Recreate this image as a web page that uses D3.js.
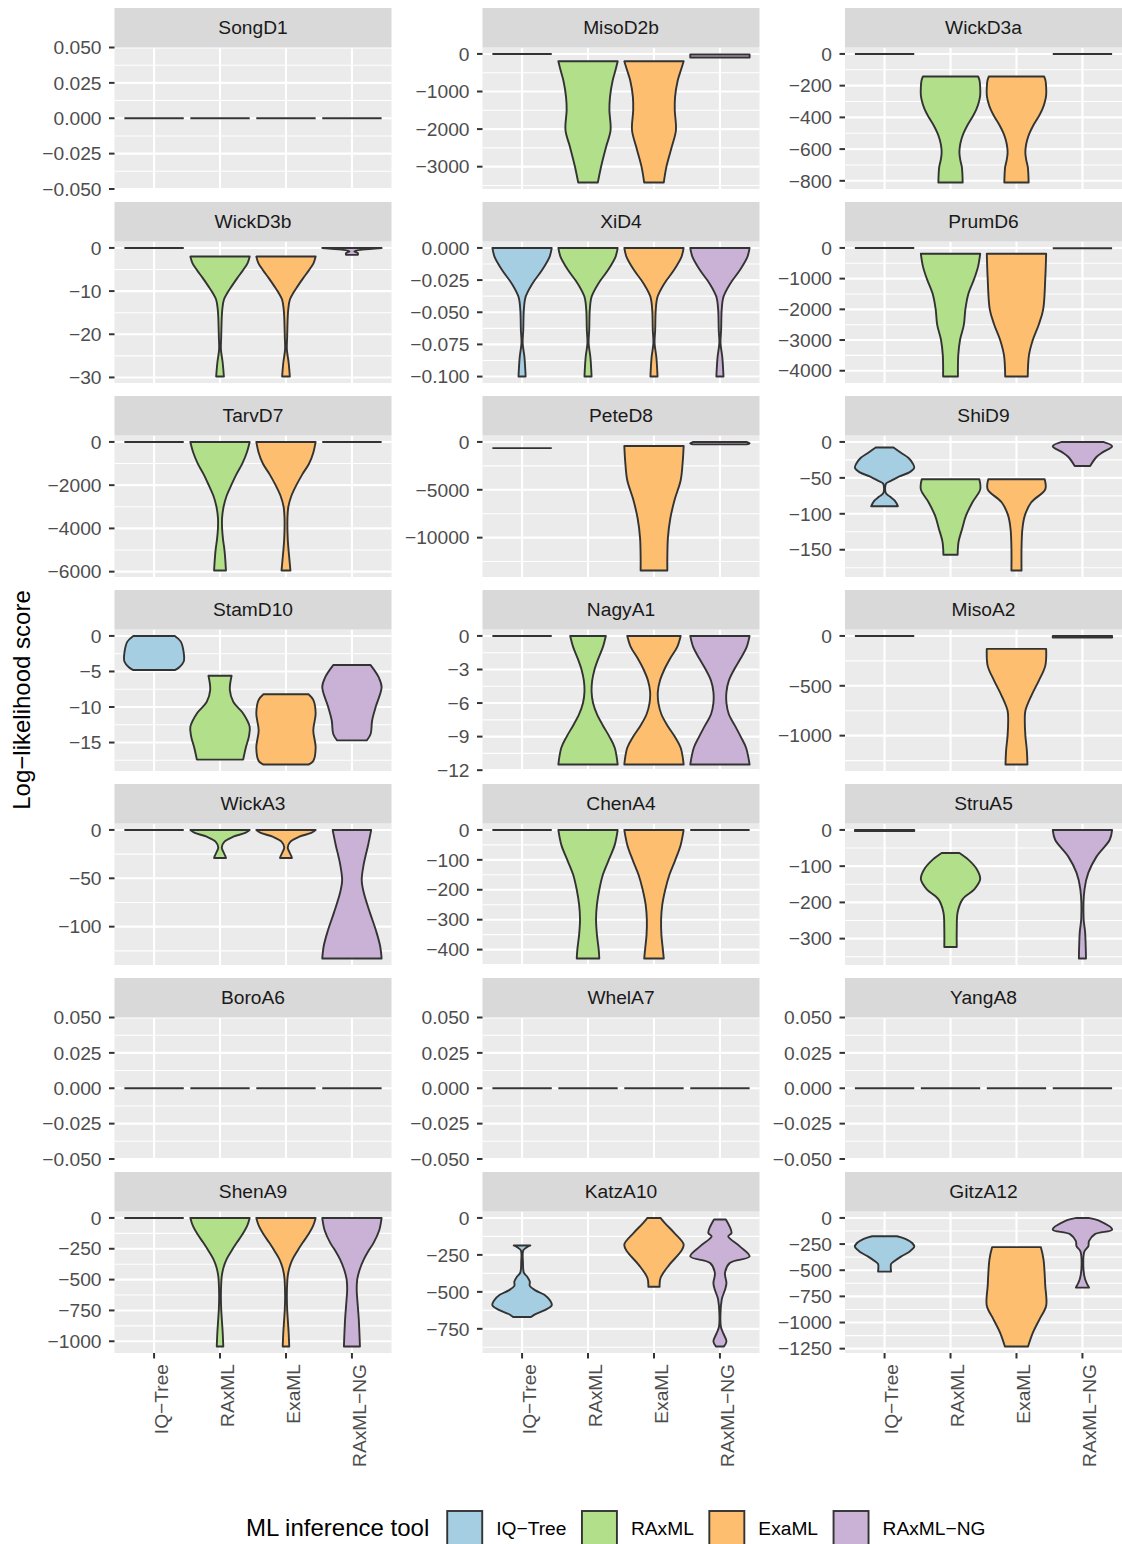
<!DOCTYPE html>
<html><head><meta charset="utf-8">
<script src="https://cdn.jsdelivr.net/npm/d3@7"></script>
<style>body{margin:0;background:#fff} text{font-family:"Liberation Sans",Arial,sans-serif}</style>
</head><body><svg id="c" width="1122" height="1544"></svg>
<script>
// ---------- categories / colours ----------
const tools = ["IQ−Tree", "RAxML", "ExaML", "RAxML−NG"];
const toolColors = ["#A6CEE3", "#B2DF8A", "#FDBF6F", "#CAB2D6"];
const legendTitle = "ML inference tool";
const yTitle = "Log−likelihood score";

// ---------- violin profiles: [log-likelihood value, relative half-width] ----------
const FLAT0 = [[0, 1]];
const zeroTicks = [0.05, 0.025, 0, -0.025, -0.05];

const SongD1 = [FLAT0, FLAT0, FLAT0, FLAT0];
const SongD1Ticks = zeroTicks;

const MisoD2b = [FLAT0,
  [[-196,1.0],[-450,0.92],[-706,0.83],[-1148,0.74],[-1500,0.72],[-2030,0.76],[-2470,0.61],[-3000,0.44],[-3423,0.33]],
  [[-196,1.0],[-450,0.9],[-706,0.8],[-1148,0.71],[-1500,0.7],[-2030,0.74],[-2470,0.6],[-3000,0.42],[-3423,0.33]],
  [[-15,1],[-95,1]]];
const MisoD2bTicks = [0, -1000, -2000, -3000];

const WickD3a = [FLAT0,
  [[-142,0.93],[-170,0.98],[-210,1.0],[-260,1.0],[-300,0.96],[-350,0.87],[-397,0.74],[-450,0.57],[-500,0.44],[-543,0.36],[-590,0.31],[-627,0.3],[-670,0.33],[-711,0.38],[-811,0.41]],
  [[-142,0.93],[-170,0.98],[-210,1.0],[-260,1.0],[-300,0.96],[-350,0.87],[-397,0.74],[-450,0.57],[-500,0.44],[-543,0.36],[-590,0.31],[-627,0.3],[-670,0.33],[-711,0.38],[-811,0.41]],
  FLAT0];
const WickD3aTicks = [0, -200, -400, -600, -800];

const WickD3b = [FLAT0,
  [[-2,1.0],[-3.5,0.93],[-5.1,0.78],[-7,0.58],[-8.9,0.39],[-10.5,0.24],[-12,0.13],[-14,0.08],[-15.9,0.06],[-20.5,0.04],[-23.5,0.03],[-26.6,0.09],[-29.8,0.13]],
  [[-2,1.0],[-3.5,0.93],[-5.1,0.78],[-7,0.58],[-8.9,0.39],[-10.5,0.24],[-12,0.13],[-14,0.08],[-15.9,0.06],[-20.5,0.04],[-23.5,0.03],[-26.6,0.09],[-29.8,0.13]],
  [[0,1],[-0.4,0.35],[-0.8,0.08],[-1.2,0.2],[-1.6,0.2]]];
const WickD3bTicks = [0, -10, -20, -30];

const xiShape = [[0,1.0],[-0.0067,0.93],[-0.017,0.68],[-0.028,0.34],[-0.038,0.12],[-0.048,0.06],[-0.064,0.04],[-0.074,0.02],[-0.085,0.08],[-0.1,0.12]];
const XiD4 = [xiShape, xiShape, xiShape, xiShape];
const XiD4Ticks = [0, -0.025, -0.05, -0.075, -0.1];

const PrumD6 = [FLAT0,
  [[-190,1.0],[-600,0.93],[-1000,0.8],[-1500,0.6],[-2000,0.5],[-2500,0.45],[-3000,0.32],[-3500,0.26],[-4190,0.25]],
  [[-190,1.0],[-1000,0.97],[-2000,0.9],[-2500,0.75],[-3000,0.55],[-3500,0.42],[-4190,0.38]],
  [[-10,1]]];
const PrumD6Ticks = [0, -1000, -2000, -3000, -4000];

const TarvD7 = [FLAT0,
  [[0,1],[-500,0.9],[-1000,0.75],[-1500,0.55],[-2000,0.38],[-2500,0.22],[-3000,0.12],[-3500,0.07],[-4000,0.07],[-4500,0.1],[-5000,0.15],[-5500,0.18],[-5950,0.2]],
  [[0,1],[-500,0.92],[-1000,0.78],[-1500,0.55],[-2000,0.35],[-2500,0.18],[-3000,0.08],[-3500,0.05],[-4500,0.06],[-5500,0.12],[-5950,0.15]],
  FLAT0];
const TarvD7Ticks = [0, -2000, -4000, -6000];

const PeteD8 = [[[-650,1]],
  null,
  [[-420,1.0],[-2000,0.97],[-4000,0.9],[-6000,0.7],[-8000,0.55],[-10000,0.47],[-12000,0.45],[-13440,0.45]],
  [[0,0.9],[-150,1.0],[-250,0.9]]];
const PeteD8Ticks = [0, -5000, -10000];

const ShiD9 = [
  [[-7.7,0.3],[-15,0.55],[-22,0.8],[-30,0.95],[-36,1.0],[-42,0.85],[-48,0.5],[-54,0.22],[-58,0.05],[-71,0.04],[-76,0.18],[-82,0.35],[-89.5,0.45]],
  [[-52,0.97],[-66,1.0],[-84,0.74],[-102.6,0.52],[-121,0.39],[-139,0.27],[-157,0.24]],
  [[-52,0.95],[-66,0.97],[-84,0.5],[-102.6,0.28],[-121,0.2],[-148,0.17],[-179,0.17]],
  [[0,0.7],[-6,1.0],[-13.8,0.7],[-20.6,0.48],[-33.4,0.26]]];
const ShiD9Ticks = [0, -50, -100, -150];

const StamD10 = [
  [[0,0.7],[-0.8,0.9],[-2.4,1.0],[-3.6,1.0],[-4.4,0.85],[-4.8,0.7]],
  [[-5.6,0.39],[-7.6,0.33],[-9.3,0.45],[-10.9,0.78],[-12.8,1.0],[-14.2,0.97],[-15.7,0.87],[-17.4,0.78]],
  [[-8.2,0.76],[-9.0,0.92],[-10.9,1.0],[-13.3,0.92],[-15.7,1.0],[-17.6,0.92],[-18.1,0.76]],
  [[-4.1,0.63],[-5.8,0.9],[-7.2,1.0],[-10,0.8],[-11.9,0.68],[-13.8,0.63],[-14.7,0.5]]];
const StamD10Ticks = [0, -5, -10, -15];

const NagyA1 = [FLAT0,
  [[0,0.6],[-1,0.5],[-2,0.35],[-3,0.22],[-4,0.14],[-5,0.12],[-6,0.17],[-7,0.3],[-8,0.5],[-9,0.72],[-10,0.9],[-11.5,1.0]],
  [[0,0.9],[-1,0.78],[-2,0.55],[-3,0.35],[-4,0.2],[-5,0.13],[-6,0.15],[-7,0.25],[-8,0.45],[-9,0.7],[-10,0.9],[-11.5,1.0]],
  [[0,1],[-1,0.9],[-2,0.7],[-3,0.48],[-4,0.3],[-5,0.22],[-6,0.22],[-7,0.3],[-8,0.5],[-9,0.7],[-10,0.88],[-11.5,1.0]]];
const NagyA1Ticks = [0, -3, -6, -9, -12];

const MisoA2 = [FLAT0, null,
  [[-130,1.0],[-300,0.97],[-450,0.75],[-600,0.5],[-750,0.3],[-850,0.28],[-1000,0.3],[-1150,0.35],[-1290,0.37]],
  [[0,1],[-15,1]]];
const MisoA2Ticks = [0, -500, -1000];

const WickA3 = [FLAT0,
  [[0,1],[-3,0.85],[-7,0.45],[-12,0.15],[-18,0.06],[-22,0.1],[-27,0.18],[-29,0.2]],
  [[0,1],[-3,0.85],[-7,0.45],[-12,0.15],[-18,0.06],[-22,0.1],[-27,0.18],[-29,0.2]],
  [[0,0.65],[-15,0.55],[-35,0.4],[-52,0.33],[-65,0.4],[-85,0.6],[-105,0.82],[-120,0.95],[-133,1.0]]];
const WickA3Ticks = [0, -50, -100];

const ChenA4 = [FLAT0,
  [[0,1],[-50,0.9],[-100,0.7],[-150,0.5],[-200,0.38],[-250,0.3],[-300,0.27],[-350,0.3],[-400,0.36],[-430,0.38]],
  [[0,1],[-50,0.9],[-100,0.72],[-150,0.52],[-200,0.38],[-250,0.28],[-300,0.24],[-350,0.25],[-400,0.3],[-430,0.33]],
  FLAT0];
const ChenA4Ticks = [0, -100, -200, -300, -400];

const StruA5 = [[[0,1],[-3,1]],
  [[-63.6,0.3],[-82,0.6],[-109,0.89],[-136,1.0],[-164,0.8],[-191,0.41],[-227,0.24],[-273,0.21],[-323,0.21]],
  null,
  [[0,1.0],[-27,0.92],[-73,0.48],[-118,0.2],[-164,0.07],[-245,0.04],[-282,0.09],[-355,0.12]]];
const StruA5Ticks = [0, -100, -200, -300];

const BoroA6 = [FLAT0, FLAT0, FLAT0, FLAT0];
const WhelA7 = [FLAT0, FLAT0, FLAT0, FLAT0];
const YangA8 = [FLAT0, FLAT0, FLAT0, FLAT0];

const ShenA9 = [FLAT0,
  [[0,1.0],[-67,0.91],[-135,0.75],[-202,0.56],[-270,0.38],[-336,0.22],[-400,0.12],[-470,0.06],[-560,0.035],[-659,0.03],[-740,0.04],[-820,0.06],[-930,0.09],[-1043,0.11]],
  [[0,1.0],[-67,0.91],[-135,0.75],[-202,0.56],[-270,0.38],[-336,0.22],[-400,0.12],[-470,0.06],[-560,0.035],[-659,0.03],[-740,0.04],[-820,0.06],[-930,0.09],[-1043,0.11]],
  [[0,1.0],[-100,0.92],[-202,0.73],[-270,0.55],[-336,0.4],[-420,0.26],[-497,0.18],[-580,0.16],[-659,0.18],[-820,0.23],[-1043,0.27]]];
const ShenA9Ticks = [0, -250, -500, -750, -1000];

const KatzA10 = [
  [[-186,0.28],[-200,0.15],[-220,0.04],[-300,0.03],[-370,0.06],[-400,0.18],[-430,0.26],[-460,0.26],[-490,0.45],[-520,0.75],[-560,0.95],[-590,1.0],[-620,0.8],[-650,0.45],[-670,0.3]],
  null,
  [[0,0.22],[-34,0.36],[-102,0.69],[-180,1.0],[-226,0.91],[-316,0.52],[-406,0.22],[-465,0.19]],
  [[-11,0.2],[-102,0.39],[-124,0.28],[-192,0.67],[-260,1.0],[-305,0.33],[-373,0.17],[-441,0.22],[-486,0.17],[-553,0.06],[-734,0.03],[-779,0.11],[-836,0.22],[-870,0.13]]];
const KatzA10Ticks = [0, -250, -500, -750];

const GitzA12 = [
  [[-175,0.42],[-200,0.7],[-240,0.93],[-275,1.0],[-320,0.85],[-370,0.55],[-420,0.3],[-440,0.22],[-513,0.22]],
  null,
  [[-279,0.82],[-396,0.91],[-650,0.97],[-840,1.0],[-967,0.78],[-1093,0.56],[-1230,0.39]],
  [[0,0.2],[-30,0.59],[-111,1.0],[-155,0.42],[-222,0.22],[-270,0.2],[-318,0.07],[-460,0.03],[-587,0.09],[-666,0.22]]];
const GitzA12Ticks = [0, -250, -500, -750, -1000, -1250];

const panelNames = ["SongD1","MisoD2b","WickD3a","WickD3b","XiD4","PrumD6","TarvD7","PeteD8","ShiD9",
  "StamD10","NagyA1","MisoA2","WickA3","ChenA4","StruA5","BoroA6","WhelA7","YangA8","ShenA9","KatzA10","GitzA12"];
const panelData = [SongD1,MisoD2b,WickD3a,WickD3b,XiD4,PrumD6,TarvD7,PeteD8,ShiD9,
  StamD10,NagyA1,MisoA2,WickA3,ChenA4,StruA5,BoroA6,WhelA7,YangA8,ShenA9,KatzA10,GitzA12];
const panelTicks = [SongD1Ticks,MisoD2bTicks,WickD3aTicks,WickD3bTicks,XiD4Ticks,PrumD6Ticks,TarvD7Ticks,PeteD8Ticks,ShiD9Ticks,
  StamD10Ticks,NagyA1Ticks,MisoA2Ticks,WickA3Ticks,ChenA4Ticks,StruA5Ticks,zeroTicks,zeroTicks,zeroTicks,ShenA9Ticks,KatzA10Ticks,GitzA12Ticks];

// ---------- layout ----------
const svg = d3.select("#c");
const colLeft = [114.5, 482.5, 845];
const panelW = 277, stripH = 39.5, plotH = 141.5, rowPitch = 194, top0 = 8;
const axisFont = 19.2, grey = "#4D4D4D", dark = "#333333";

function fmtFactory(ticks) {
  let dec = 0;
  ticks.forEach(t => { const s = String(t); if (s.includes(".")) dec = Math.max(dec, s.split(".")[1].length); });
  const f = d3.format("." + dec + "f");
  return v => f(v).replace("-", "\u2212");
}

panelNames.forEach((name, i) => {
  const row = Math.floor(i / 3), col = i % 3;
  const x0 = colLeft[col], t0 = top0 + row * rowPitch;
  const py0 = t0 + stripH, py1 = py0 + plotH;
  const data = panelData[i], ticks = panelTicks[i];
  const vals = data.filter(d => d).flatMap(d => d.map(p => p[0]));
  let lo = d3.min(vals), hi = d3.max(vals);
  if (hi - lo === 0) { lo -= 0.05; hi += 0.05; }
  else { const r = hi - lo; lo -= 0.05 * r; hi += 0.05 * r; }
  const y = d3.scaleLinear().domain([lo, hi]).range([py1, py0]);
  // discrete scale with 0.6-unit expansion on each side
  const x = d3.scalePoint().domain(tools).range([x0 + 0.6 * panelW / 4.2, x0 + panelW - 0.6 * panelW / 4.2]);
  const unit = panelW / 4.2;
  const cx = k => x(tools[k]);
  const hw = 0.45 * unit;

  const g = svg.append("g");
  g.append("rect").attr("x", x0).attr("y", py0).attr("width", panelW).attr("height", plotH).attr("fill", "#EBEBEB");
  // minor grid
  const step = Math.abs(ticks[0] - ticks[1]);
  const minors = [];
  for (let k = -1; k < ticks.length; k++) minors.push(ticks[0] - k * step - step / 2);
  minors.filter(v => v > lo && v < hi).forEach(v => {
    g.append("line").attr("x1", x0).attr("x2", x0 + panelW).attr("y1", y(v)).attr("y2", y(v))
      .attr("stroke", "#fff").attr("stroke-width", 1.1);
  });
  ticks.forEach(v => {
    g.append("line").attr("x1", x0).attr("x2", x0 + panelW).attr("y1", y(v)).attr("y2", y(v))
      .attr("stroke", "#fff").attr("stroke-width", 2.1);
  });
  tools.forEach((t, k) => {
    g.append("line").attr("x1", cx(k)).attr("x2", cx(k)).attr("y1", py0).attr("y2", py1)
      .attr("stroke", "#fff").attr("stroke-width", 2.1);
  });
  // violins
  data.forEach((prof, k) => {
    if (!prof) return;
    if (prof.length === 1) {
      g.append("line").attr("x1", cx(k) - hw * prof[0][1]).attr("x2", cx(k) + hw * prof[0][1])
        .attr("y1", y(prof[0][0])).attr("y2", y(prof[0][0]))
        .attr("stroke", dark).attr("stroke-width", 1.9);
      return;
    }
    const area = d3.area().curve(d3.curveCatmullRom.alpha(0.5))
      .y(d => y(d[0])).x0(d => cx(k) - d[1] * hw).x1(d => cx(k) + d[1] * hw);
    g.append("path").attr("d", area(prof)).attr("fill", toolColors[k])
      .attr("stroke", dark).attr("stroke-width", 1.9).attr("stroke-linejoin", "round");
  });
  // strip
  g.append("rect").attr("x", x0).attr("y", t0).attr("width", panelW).attr("height", stripH).attr("fill", "#D9D9D9");
  g.append("text").attr("x", x0 + panelW / 2).attr("y", t0 + stripH / 2).attr("dy", "0.35em")
    .attr("text-anchor", "middle").attr("font-size", axisFont).attr("fill", "#1A1A1A").text(name);
  // y axis
  const fmt = fmtFactory(ticks);
  ticks.forEach(v => {
    g.append("line").attr("x1", x0 - 5.5).attr("x2", x0).attr("y1", y(v)).attr("y2", y(v))
      .attr("stroke", dark).attr("stroke-width", 2);
    g.append("text").attr("x", x0 - 13).attr("y", y(v)).attr("dy", "0.35em").attr("text-anchor", "end")
      .attr("font-size", axisFont).attr("fill", grey).text(fmt(v));
  });
  // x axis on bottom row
  if (row === 6) {
    tools.forEach((t, k) => {
      g.append("line").attr("x1", cx(k)).attr("x2", cx(k)).attr("y1", py1).attr("y2", py1 + 5.5)
        .attr("stroke", dark).attr("stroke-width", 2);
      g.append("text").attr("transform", `translate(${cx(k)},${py1 + 11}) rotate(-90)`)
        .attr("y", 13.7).attr("text-anchor", "end").attr("font-size", axisFont).attr("fill", grey).text(t);
    });
  }
});

// y title
svg.append("text").attr("transform", "translate(30,700) rotate(-90)").attr("text-anchor", "middle")
  .attr("font-size", 24).attr("fill", "#000").text(yTitle);

// legend
const lg = svg.append("g");
const legY = 1528;
const titleEl = lg.append("text").attr("x", 246).attr("y", legY).attr("dy", "0.35em").attr("font-size", 24).text(legendTitle);
let lx = 246 + titleEl.node().getComputedTextLength() + 17;
tools.forEach((t, k) => {
  lg.append("rect").attr("x", lx + 1).attr("y", legY - 17).attr("width", 35).attr("height", 35)
    .attr("fill", toolColors[k]).attr("stroke", dark).attr("stroke-width", 1.9);
  const te = lg.append("text").attr("x", lx + 50).attr("y", legY).attr("dy", "0.35em").attr("font-size", axisFont)
    .attr("fill", "#000").text(t);
  lx += 50 + te.node().getComputedTextLength() + 14.5;
});
</script></body></html>
